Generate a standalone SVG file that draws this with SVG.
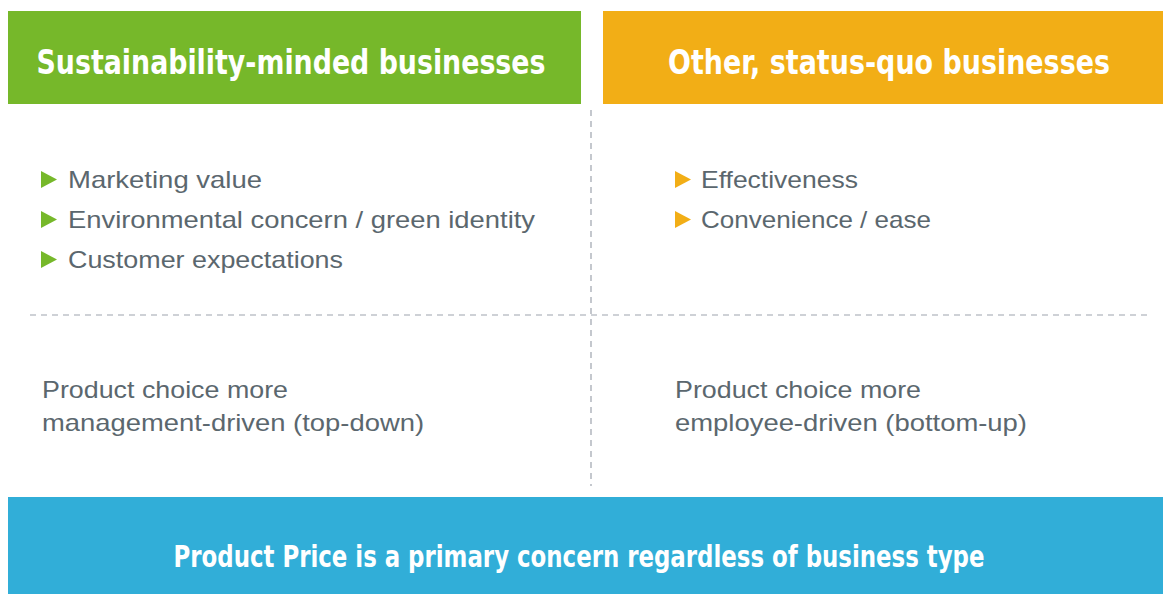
<svg xmlns="http://www.w3.org/2000/svg" width="1163" height="594" viewBox="0 0 1163 594">
  <style>
    .head { font-family: "DejaVu Sans", sans-serif; font-stretch: condensed; font-weight: bold; font-size: 30px; fill: #ffffff; }
    .foot { font-family: "DejaVu Sans", sans-serif; font-stretch: condensed; font-weight: bold; font-size: 30px; fill: #ffffff; }
    .item { font-family: "Liberation Sans", Arial, sans-serif; font-size: 24px; fill: #5b676e; }
    .rule { stroke: #9da3ad; stroke-width: 1.2; stroke-dasharray: 6 5; fill: none; }
  </style>
  <defs>
    <polygon id="tri" points="0,0 16,8.5 0,17"/>
  </defs>

  <rect width="1163" height="594" fill="#ffffff"/>

  <g id="dividers">
    <line class="rule" x1="591" y1="110" x2="591" y2="486"/>
    <line class="rule" x1="30" y1="315" x2="1148" y2="315"/>
  </g>

  <g id="sustainable-header">
    <rect x="8" y="11" width="573" height="93" fill="#76b82a"/>
    <!-- tall condensed heading: stretched vertically, width fixed -->
    <text class="head" transform="translate(291,74) scale(1,1.13)" x="0" y="0" text-anchor="middle" textLength="509" lengthAdjust="spacingAndGlyphs">Sustainability-minded businesses</text>
  </g>

  <g id="statusquo-header">
    <rect x="603" y="11" width="560" height="93" fill="#f2ae16"/>
    <text class="head" transform="translate(889,74) scale(1,1.13)" x="0" y="0" text-anchor="middle" textLength="442" lengthAdjust="spacingAndGlyphs">Other, status-quo businesses</text>
  </g>

  <g id="sustainable-drivers">
    <use href="#tri" x="41" y="171" fill="#76b82a"/>
    <text class="item" x="68" y="188" textLength="194" lengthAdjust="spacingAndGlyphs">Marketing value</text>
    <use href="#tri" x="41" y="211" fill="#76b82a"/>
    <text class="item" x="68" y="228" textLength="467" lengthAdjust="spacingAndGlyphs">Environmental concern / green identity</text>
    <use href="#tri" x="41" y="251" fill="#76b82a"/>
    <text class="item" x="68" y="268" textLength="275" lengthAdjust="spacingAndGlyphs">Customer expectations</text>
  </g>

  <g id="statusquo-drivers">
    <use href="#tri" x="675" y="171" fill="#f2ae16"/>
    <text class="item" x="701" y="188" textLength="157" lengthAdjust="spacingAndGlyphs">Effectiveness</text>
    <use href="#tri" x="675" y="211" fill="#f2ae16"/>
    <text class="item" x="701" y="228" textLength="230" lengthAdjust="spacingAndGlyphs">Convenience / ease</text>
  </g>

  <g id="sustainable-choice">
    <text class="item" x="42" y="398" textLength="246" lengthAdjust="spacingAndGlyphs">Product choice more</text>
    <text class="item" x="42" y="431" textLength="382" lengthAdjust="spacingAndGlyphs">management-driven (top-down)</text>
  </g>

  <g id="statusquo-choice">
    <text class="item" x="675" y="398" textLength="246" lengthAdjust="spacingAndGlyphs">Product choice more</text>
    <text class="item" x="675" y="431" textLength="352" lengthAdjust="spacingAndGlyphs">employee-driven (bottom-up)</text>
  </g>

  <g id="price-banner">
    <rect x="8" y="497" width="1155" height="97" fill="#31aed8"/>
    <text class="foot" x="579" y="567" text-anchor="middle" textLength="811" lengthAdjust="spacingAndGlyphs">Product Price is a primary concern regardless of business type</text>
  </g>
</svg>
